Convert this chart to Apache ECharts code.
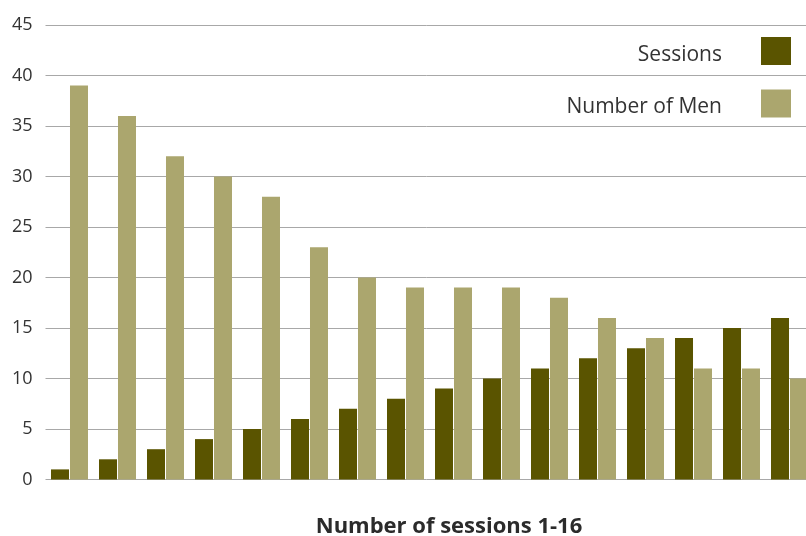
<!DOCTYPE html>
<html>
<head>
<meta charset="utf-8">
<script src="https://cdn.jsdelivr.net/npm/echarts@6/dist/echarts.min.js"></script>
<style>
  html, body { margin: 0; padding: 0; background: #fff; }
  #chart { width: 806px; height: 536px; }
</style>
</head>
<body>
<div id="chart"></div>
<script>
// Session numbers along the horizontal axis
const categories = ['1', '2', '3', '4', '5', '6', '7', '8', '9', '10', '11', '12', '13', '14', '15', '16'];
// Session index shown as a bar
const sessions = [1, 2, 3, 4, 5, 6, 7, 8, 9, 10, 11, 12, 13, 14, 15, 16];
// Number of men attending each session
const numberOfMen = [39, 36, 32, 30, 28, 23, 20, 19, 19, 19, 18, 16, 14, 11, 11, 10];
// Vertical axis ticks
const yTicks = { min: 0, max: 45, interval: 5 };

const FONT = '"Open Sans", "Noto Sans", sans-serif';
const chart = echarts.init(document.getElementById('chart'), null, { renderer: 'canvas' });

chart.setOption({
  animation: false,
  backgroundColor: '#ffffff',
  title: {
    text: 'Number of sessions 1-16',
    left: 444,
    top: 511,
    textAlign: 'center',
    textStyle: { fontFamily: FONT, fontSize: 22, fontWeight: 'bold', color: '#2b2b2b' }
  },
  legend: {
    orient: 'vertical',
    right: 10,
    top: 32,
    align: 'right',
    itemWidth: 30,
    itemHeight: 28,
    itemGap: 24,
    icon: 'rect',
    formatter: '{t|{name}}',
    textStyle: {
      fontFamily: FONT, fontSize: 21, color: '#333', padding: [0, 34, 0, 0],
      rich: { t: { fontFamily: FONT, fontSize: 21, color: '#333', padding: [8, 0, 0, 0] } }
    },
    data: ['Sessions', 'Number of Men']
  },
  // the plot area runs a little past the right edge of the canvas
  grid: {
    left: 45.5, top: 25, width: 768, height: 454.5,
    containLabel: false,
    outerBoundsMode: 'none'
  },
  xAxis: {
    type: 'category',
    data: categories,
    axisLine: { show: false },
    axisTick: { show: false },
    axisLabel: { show: false }
  },
  yAxis: {
    type: 'value',
    min: yTicks.min,
    max: yTicks.max,
    interval: yTicks.interval,
    axisLine: { show: false },
    axisTick: { show: false },
    axisLabel: { fontFamily: FONT, fontSize: 18, color: '#333', margin: 13 },
    splitLine: { lineStyle: { color: '#a8a8a8', width: 1 } }
  },
  series: [
    {
      name: 'Sessions',
      type: 'bar',
      data: sessions,
      itemStyle: { color: '#5a5400' },
      barWidth: 18,
      barGap: '5.5%'
    },
    {
      name: 'Number of Men',
      type: 'bar',
      data: numberOfMen,
      itemStyle: { color: '#aba66e' },
      barWidth: 18
    }
  ]
});
</script>
</body>
</html>
